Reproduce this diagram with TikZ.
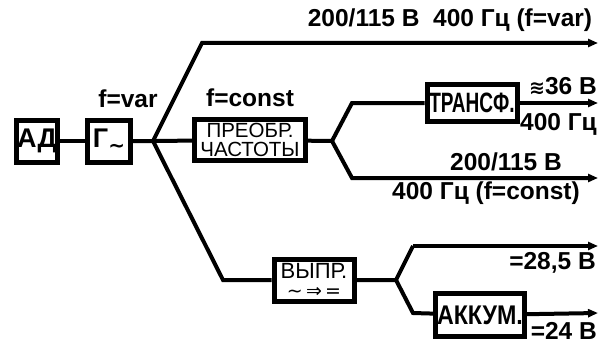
\documentclass[tikz,border=0pt]{standalone}
\usepackage{fontspec}
\setmainfont{Liberation Sans}
\newfontfamily\symbfont{DejaVu Sans}
\usetikzlibrary{arrows.meta}
\begin{document}
\begin{tikzpicture}[
    x=1pt, y=-1pt,
    blk/.style={rectangle, draw, line width=5pt, inner sep=0pt, align=center},
    big/.style={font=\bfseries\fontsize{27}{29}\selectfont},
    lbl/.style={inner sep=0pt, font=\bfseries\fontsize{24.5}{26}\selectfont},
    wire/.style={line width=4pt},
    arr/.style={wire, -{Triangle[length=10pt,width=8pt]}},
]
\useasboundingbox (0,0) rectangle (601,345);
% blocks
\node[blk, big, minimum width=41pt, minimum height=42pt] (ad) at (37,141) {АД};
\node[blk, big, minimum width=43pt, minimum height=42pt] (gen) at (109,141) {Г\raisebox{-5pt}{\symbfont\fontsize{20}{20}\selectfont ∼}};
\node[blk, minimum width=111pt, minimum height=41pt, font=\fontsize{20.5}{19}\selectfont] (conv) at (250,140) {ПРЕОБР.\\ЧАСТОТЫ};
\node[blk, minimum width=90pt, minimum height=37pt, font=\bfseries\fontsize{28}{28}\selectfont] (trans) at (472,103) {\scalebox{0.68}[1]{ТРАНСФ.}};
\node[blk, minimum width=80pt, minimum height=42pt, font=\fontsize{22}{19}\selectfont] (rect) at (314,280) {ВЫПР.\\{\symbfont\fontsize{19}{17}\selectfont ∼\,⇒\,=}};
\node[blk, minimum width=89pt, minimum height=43pt, font=\bfseries\fontsize{27}{28}\selectfont] (batt) at (480,315) {\scalebox{0.86}[1]{АККУМ.}};
% junctions and bends
\coordinate (j1) at (153,141);
\coordinate (j2) at (332,141);
\coordinate (j3) at (396,280);
\coordinate (c1) at (202,43);
\coordinate (c2) at (352,103);
\coordinate (c3) at (352,178);
\coordinate (c4) at (223,280);
\coordinate (c5) at (413,246);
\coordinate (c6) at (413,313);
\coordinate (e1) at (598,43);
\coordinate (e2) at (598,103);
\coordinate (e3) at (598,178);
\coordinate (e5) at (598,246);
\coordinate (e6) at (598,313);
% wiring
\draw[wire] (ad) -- (gen);
\draw[wire] (gen) -- (j1) -- (conv);
\draw[arr] (j1) -- (c1) -- (e1);
\draw[wire] (j1) -- (c4) -- (rect);
\draw[wire] (conv) -- (j2) -- (c2) -- (trans);
\draw[arr] (trans) -- (e2);
\draw[arr] (j2) -- (c3) -- (e3);
\draw[wire] (rect) -- (j3) -- (c5);
\draw[arr] (c5) -- (e5);
\draw[wire] (j3) -- (c6) -- (batt);
\draw[arr] (batt) -- (e6);
% labels
\node[lbl] (lvar) at (450,20) {200/115 В\ \ 400 Гц (f=var)};
\node[lbl] (fvar) at (128,99) {f=var};
\node[lbl] (fconst) at (250,98) {f=const};
\node[lbl, anchor=east] (l36) at (597,86) {{\symbfont\fontsize{19}{17}\selectfont ≋}36 В};
\node[lbl, anchor=east] (l400) at (597,124) {400 Гц};
\node[lbl] (l200) at (506,162) {200/115 В};
\node[lbl] (l400c) at (486,193) {400 Гц (f=const)};
\node[lbl, anchor=east] (l285) at (596,263) {=28,5 В};
\node[lbl, anchor=east] (l24) at (597,331) {=24 В};
\end{tikzpicture}
\end{document}
